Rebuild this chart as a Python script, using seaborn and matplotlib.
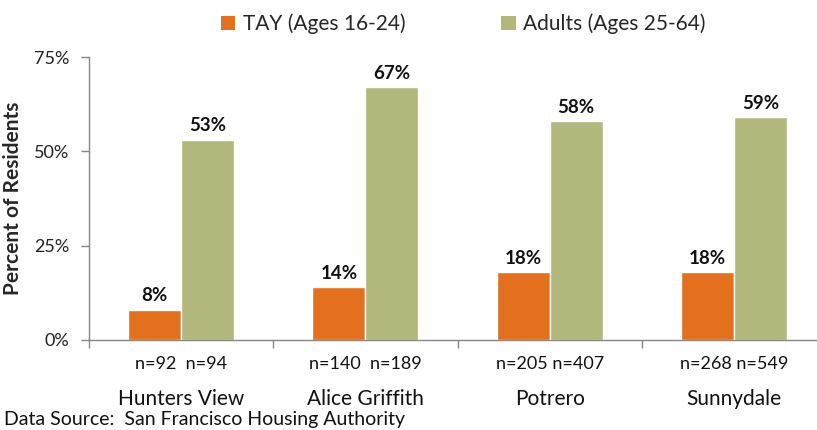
import matplotlib
matplotlib.use("Agg")
import matplotlib.pyplot as plt
import matplotlib.transforms as mtransforms
from matplotlib.patches import Patch
import seaborn as sns
import pandas as pd

categories = ["Hunters View", "Alice Griffith", "Potrero", "Sunnydale"]
series_names = ["TAY (Ages 16-24)", "Adults (Ages 25-64)"]
tay_values = [8, 14, 18, 18]
adult_values = [53, 67, 58, 59]
tay_n = ["n=92", "n=140", "n=205", "n=268"]
adult_n = ["n=94", "n=189", "n=407", "n=549"]
n_separators = ["  ", "  ", " ", " "]
y_ticks = [0, 25, 50, 75]
y_tick_labels = ["0%", "25%", "50%", "75%"]
source_text = "Data Source:  San Francisco Housing Authority"
colors = ["#E4701E", "#B2B77B"]

sns.set_theme(style="white")
plt.rcParams["font.family"] = ["Lato", "DejaVu Sans"]

df = pd.DataFrame({
    "Site": categories * 2,
    "Group": [series_names[0]] * 4 + [series_names[1]] * 4,
    "Value": tay_values + adult_values,
})

fig = plt.figure(figsize=(8.17, 4.30), dpi=100)
ax = fig.add_axes([89 / 817, 90 / 430, 737 / 817, 283 / 430])

sns.barplot(data=df, x="Site", y="Value", hue="Group", order=categories,
            hue_order=series_names, palette=colors, width=0.575, gap=0,
            saturation=1, ax=ax, legend=False, errorbar=None)

ax.set_xlim(-0.5, 3.5)
ax.set_ylim(0, 75)
ax.set_yticks(y_ticks)
ax.set_yticklabels(y_tick_labels, fontsize=13, color="#222222")
ax.set_xticks([i - 0.5 for i in range(5)])
ax.set_xticklabels([])
ax.tick_params(axis="both", which="major", length=6, width=1, color="#868686",
               direction="out", left=True, bottom=True)
ax.tick_params(axis="y", pad=8)
ax.set_xlabel("")
ax.set_ylabel("Percent of Residents", fontsize=15, fontweight="bold", labelpad=8)
for s in ["top", "right"]:
    ax.spines[s].set_visible(False)
for s in ["left", "bottom"]:
    ax.spines[s].set_color("#868686")
    ax.spines[s].set_linewidth(1)

# value labels
for cont in ax.containers:
    for bar in cont:
        h = bar.get_height()
        ax.annotate(f"{h:.0f}%", (bar.get_x() + bar.get_width() / 2, h),
                    xytext=(0, 4), textcoords="offset points", ha="center",
                    va="bottom", fontsize=13.5, fontweight="bold", color="#111111")

# n labels and category names
trans = mtransforms.blended_transform_factory(ax.transData, fig.transFigure)
for i, cat in enumerate(categories):
    ax.text(i, (430 - 364) / 430, tay_n[i] + n_separators[i] + adult_n[i],
            transform=trans, ha="center", va="center", fontsize=13,
            color="#111111")
    ax.text(i, (430 - 399) / 430, cat, transform=trans, ha="center",
            va="center", fontsize=15, color="#111111")

fig.text(4 / 817, (430 - 419) / 430, source_text, ha="left", va="center",
         fontsize=14, color="#111111")

handles = [Patch(facecolor=c, edgecolor="none") for c in colors]
fig.legend(handles, series_names, loc="center", bbox_to_anchor=(463 / 817, 1 - 24 / 430),
           ncol=2, frameon=False, fontsize=15, handlelength=0.7, handleheight=0.7,
           handletextpad=0.35, columnspacing=4.6)

fig.savefig("out.png", dpi=100)
